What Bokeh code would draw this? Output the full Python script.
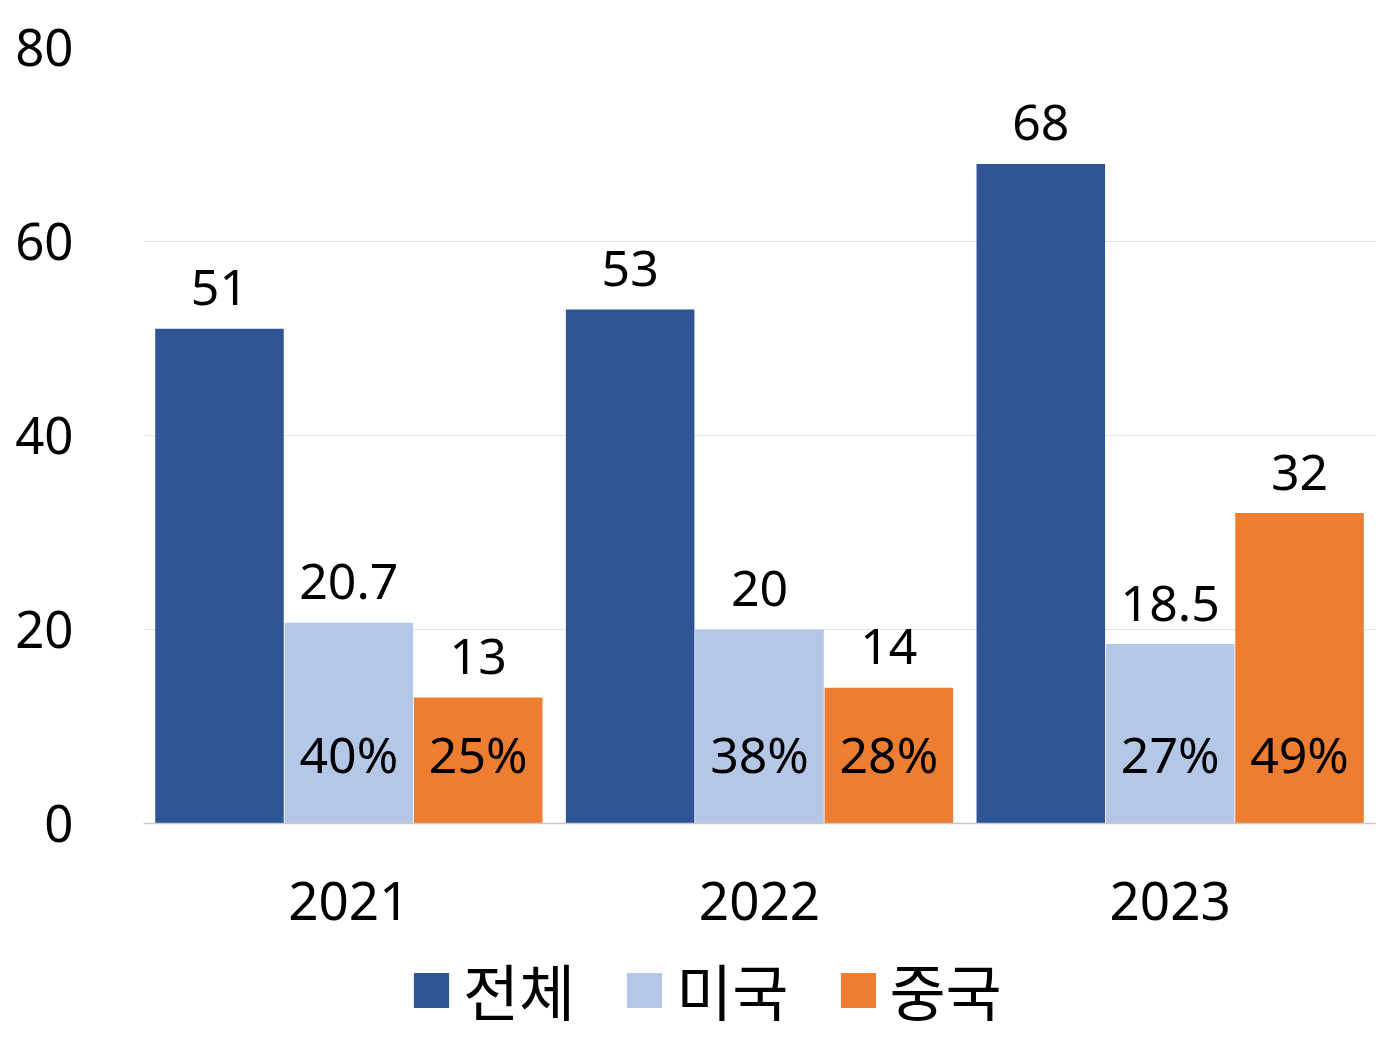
from bokeh.plotting import figure
from bokeh.models import ColumnDataSource, FactorRange, FixedTicker, Legend, LegendItem, Range1d
from bokeh.layouts import column
from bokeh.transform import dodge
from bokeh.core.properties import value
from bokeh.embed import file_html
from bokeh.resources import INLINE

years = ["2021", "2022", "2023"]
total = [51, 53, 68]
usa = [20.7, 20, 18.5]
china = [13, 14, 32]
usa_share = ["40%", "38%", "27%"]
china_share = ["25%", "28%", "49%"]
series_names = ["전체", "미국", "중국"]
colors = ["#2F5597", "#B4C7E7", "#ED7D31"]
y_ticks = [0, 20, 40, 60, 80]

def fmt(v):
    return str(int(v)) if float(v).is_integer() else str(v)

src = ColumnDataSource(dict(
    year=years, total=total, usa=usa, china=china,
    total_lbl=[fmt(v) for v in total],
    usa_lbl=[fmt(v) for v in usa],
    china_lbl=[fmt(v) for v in china],
    usa_share=usa_share, china_share=china_share,
    zero=[0, 0, 0],
))

W = 1377
p = figure(width=W, height=945, x_range=FactorRange(*years), y_range=(0, 80),
           output_backend="svg", toolbar_location=None,
           min_border_left=143, min_border_right=2, min_border_top=47,
           min_border_bottom=122)
p.outline_line_color = None
p.background_fill_color = "white"
p.border_fill_color = "white"

off = 0.315
bw = 0.313
fields = ["total", "usa", "china"]
offsets = [-off, 0, off]
for f, o, c in zip(fields, offsets, colors):
    p.vbar(x=dodge("year", o, range=p.x_range), top=f, width=bw, source=src,
           fill_color=c, line_color=None)

font = value("Noto Sans")
for f, o in zip(fields, offsets):
    p.text(x=dodge("year", o, range=p.x_range), y=f, text=f + "_lbl", source=src,
           text_align="center", text_baseline="alphabetic", y_offset=-41,
           text_font=font, text_font_size="50px", text_color="black")

for f, o in [("usa_share", 0), ("china_share", off)]:
    p.text(x=dodge("year", o, range=p.x_range), y="zero", text=f, source=src,
           text_align="center", text_baseline="alphabetic", y_offset=-70,
           text_font=font, text_font_size="50px", text_color="black")

p.yaxis.ticker = FixedTicker(ticks=y_ticks)
p.yaxis.axis_line_color = None
p.yaxis.major_tick_line_color = None
p.yaxis.minor_tick_line_color = None
p.yaxis.major_tick_out = 0
p.yaxis.major_label_standoff = 70
p.yaxis.major_label_text_font = "Noto Sans"
p.yaxis.major_label_text_font_size = "51px"
p.yaxis.major_label_text_color = "black"

p.xaxis.axis_line_color = "#C9C9C9"
p.xaxis.axis_line_width = 1.5
p.xaxis.major_tick_line_color = None
p.xaxis.major_tick_out = 0
p.xaxis.major_label_standoff = 58
p.xaxis.major_label_text_font = "Noto Sans"
p.xaxis.major_label_text_font_size = "53px"
p.xaxis.major_label_text_color = "black"

p.xgrid.grid_line_color = None
p.ygrid.grid_line_color = "#E6E6E6"
p.ygrid.grid_line_width = 1

# legend strip (its frame is aligned with the chart's frame by the column layout)
lg = figure(width=W, height=95, x_range=Range1d(0, 1), y_range=Range1d(0, 1),
            output_backend="svg", toolbar_location=None,
            min_border_left=0, min_border_right=0, min_border_top=0, min_border_bottom=0)
lg.axis.visible = False
lg.grid.grid_line_color = None
lg.outline_line_color = None
lg.border_fill_color = "white"
dummies = [lg.vbar(x=[5], top=[0], width=0.1, fill_color=c, line_color=None) for c in colors]
legend = Legend(items=[LegendItem(label=n, renderers=[r]) for n, r in zip(series_names, dummies)],
                orientation="horizontal", location=(266, 6),
                glyph_width=44, glyph_height=44, label_standoff=10, spacing=47,
                label_text_font="Noto Sans CJK KR", label_text_font_size="61px",
                label_text_color="black", border_line_color=None,
                background_fill_alpha=0, padding=0, margin=0)
lg.add_layout(legend)

layout = column(p, lg, spacing=0)
open("out.html", "w").write(file_html(layout, INLINE))
